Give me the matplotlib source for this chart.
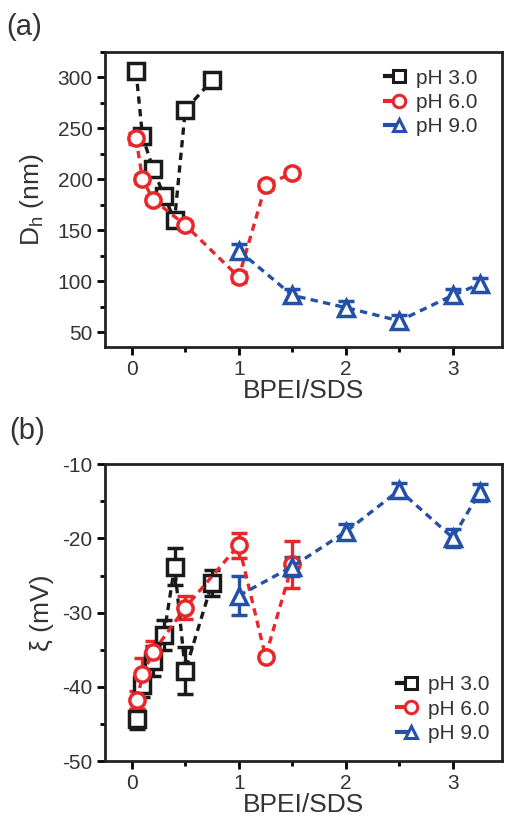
import numpy as np
import matplotlib
matplotlib.use("Agg")
import matplotlib.pyplot as plt
from matplotlib.lines import Line2D
from matplotlib.legend_handler import HandlerTuple
from matplotlib.ticker import MultipleLocator

plt.rcParams['font.family'] = ['Liberation Sans', 'DejaVu Sans']
plt.rcParams['mathtext.fontset'] = 'custom'
plt.rcParams['mathtext.rm'] = 'Liberation Sans'
plt.rcParams['axes.unicode_minus'] = False

# ---- data: hydrodynamic diameter (a) ----
x3_a = [0.04, 0.1, 0.2, 0.3, 0.4, 0.5, 0.75]
d3 = [306, 242, 210, 184, 160, 268, 297]
e3 = [4, 6, 4, 5, 5, 4, 4]
x6_a = [0.04, 0.1, 0.2, 0.5, 1.0, 1.25, 1.5]
d6 = [240, 200, 180, 155, 104, 194, 206]
e6 = [5, 4, 4, 4, 5, 4, 4]
x9_a = [1.0, 1.5, 2.0, 2.5, 3.0, 3.25]
d9 = [130, 86, 74, 61, 86, 97]
e9 = [6, 6, 6, 6, 6, 6]

# ---- data: zeta potential (b) ----
x3_b = [0.05, 0.1, 0.2, 0.3, 0.4, 0.5, 0.75]
z3 = [-44.3, -39.7, -36.5, -33.0, -23.8, -37.8, -26.0]
ez3 = [1.4, 1.6, 2.0, 2.0, 2.5, 3.2, 1.7]
x6_b = [0.05, 0.1, 0.2, 0.5, 1.0, 1.25, 1.5]
z6 = [-41.8, -38.3, -35.3, -29.3, -20.9, -35.9, -23.5]
ez6 = [1.2, 2.2, 1.5, 1.5, 1.7, 0.5, 3.2]
x9_b = [1.0, 1.5, 2.0, 2.5, 3.0, 3.25]
z9 = [-27.7, -23.8, -19.1, -13.5, -19.9, -13.8]
ez9 = [2.6, 1.3, 1.0, 0.9, 1.2, 1.1]

labels = ['pH 3.0', 'pH 6.0', 'pH 9.0']
colors = ['#1a1a1a', '#e8272a', '#2450a8']
markers = ['s', 'o', '^']

fig = plt.figure(figsize=(5.05, 8.23), dpi=100)
axa = fig.add_axes([0.208, 0.578, 0.786, 0.359])
axb = fig.add_axes([0.208, 0.075, 0.786, 0.361])

def draw(ax, xs, ys, es, ms):
    for x, y, e, c, m in zip(xs, ys, es, colors, markers):
        ax.errorbar(x, y, yerr=e, color=c, ls=(0, (2.2, 1.6)), lw=2.4,
                    marker=m, ms=ms, mfc='white', mec=c, mew=2.5,
                    capsize=6, capthick=2.4, elinewidth=2.4)

def legend(ax, loc, anchor):
    hs = []
    for c, m in zip(colors, markers):
        l1 = Line2D([], [], color=c, lw=3)
        l2 = Line2D([], [], color=c, marker=m, ls='none', ms=9, mfc='white', mew=2.2)
        hs.append((l1, l2))
    leg = ax.legend(hs, labels, handler_map={tuple: HandlerTuple(ndivide=2, pad=0.0)},
                    loc=loc, bbox_to_anchor=anchor, frameon=False, fontsize=15,
                    handlelength=0.9, handletextpad=0.6, labelspacing=0.25,
                    borderaxespad=0.2)
    for t in leg.get_texts():
        t.set_color('#333333')

draw(axa, [x3_a, x6_a, x9_a], [d3, d6, d9], [e3, e6, e9], 11)
draw(axb, [x3_b, x6_b, x9_b], [z3, z6, z9], [ez3, ez6, ez9], 11)

for ax in (axa, axb):
    ax.set_xlim(-0.25, 3.46)
    ax.xaxis.set_major_locator(MultipleLocator(1))
    ax.xaxis.set_minor_locator(MultipleLocator(0.5))
    ax.tick_params(which='both', direction='out', width=2, labelsize=15, pad=3,
                   labelcolor='#333333')
    ax.tick_params(which='major', length=6)
    ax.tick_params(which='minor', length=3.5)
    for s in ax.spines.values():
        s.set_linewidth(2)
        s.set_color('#222222')
    ax.set_xlabel('BPEI/SDS', fontsize=19, labelpad=0, color='#333333')

axa.set_ylim(35, 325)
axa.yaxis.set_major_locator(MultipleLocator(50))
axa.yaxis.set_minor_locator(MultipleLocator(25))
axa.set_ylabel(r'D$_\mathregular{h}$ (nm)', fontsize=19, labelpad=8, color='#333333')

axb.set_ylim(-50, -10)
axb.yaxis.set_major_locator(MultipleLocator(10))
axb.yaxis.set_minor_locator(MultipleLocator(5))
axb.set_ylabel('ξ (mV)', fontsize=19, labelpad=6, color='#333333')

legend(axa, 'upper right', (0.97, 0.985))
legend(axb, 'lower right', (1.0, 0.02))

fig.text(0.012, 0.957, '(a)', fontsize=21, color='#333333')
fig.text(0.018, 0.466, '(b)', fontsize=21, color='#333333')

fig.savefig('out.png', dpi=100)
